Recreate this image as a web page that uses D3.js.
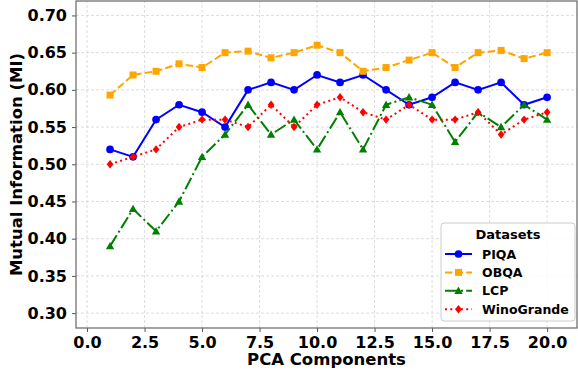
<!DOCTYPE html>
<html>
<head>
<meta charset="utf-8">
<script src="https://cdn.jsdelivr.net/npm/d3@7"></script>
<style>
  body { margin: 0; background: #fff; }
  svg { font-family: "DejaVu Sans", sans-serif; font-weight: bold; }
</style>
</head>
<body>
<div id="chart"></div>
<script>
// Data
const components = d3.range(1, 21);
const piqa = [0.52, 0.51, 0.56, 0.58, 0.57, 0.55, 0.60, 0.61, 0.60, 0.62, 0.61, 0.62, 0.60, 0.58, 0.59, 0.61, 0.60, 0.61, 0.58, 0.59];
const obqa = [0.593, 0.62, 0.625, 0.635, 0.63, 0.65, 0.652, 0.643, 0.65, 0.66, 0.65, 0.625, 0.63, 0.64, 0.65, 0.63, 0.65, 0.653, 0.642, 0.65];
const lcp = [0.39, 0.44, 0.41, 0.45, 0.51, 0.54, 0.58, 0.54, 0.56, 0.52, 0.57, 0.52, 0.58, 0.59, 0.58, 0.53, 0.57, 0.55, 0.58, 0.56];
const wino = [0.50, 0.51, 0.52, 0.55, 0.56, 0.56, 0.55, 0.58, 0.55, 0.58, 0.59, 0.57, 0.56, 0.58, 0.56, 0.56, 0.57, 0.54, 0.56, 0.57];
const xTicks = [0, 2.5, 5, 7.5, 10, 12.5, 15, 17.5, 20];
const yTicks = [0.30, 0.35, 0.40, 0.45, 0.50, 0.55, 0.60, 0.65, 0.70];

const series = [
    { name: "PIQA", values: piqa, color: "blue", dash: null, marker: "circle" },
    { name: "OBQA", values: obqa, color: "orange", dash: "7.4,3.2", marker: "square" },
    { name: "LCP", values: lcp, color: "green", dash: "12.8,3.2,2,3.2", marker: "triangle" },
    { name: "WinoGrande", values: wino, color: "red", dash: "2,3.3", marker: "diamond" }
];

const width = 578, height = 374;
const margin = { top: 1, right: 1, bottom: 46, left: 76 };

const svg = d3.select("#chart").append("svg")
    .attr("width", width)
    .attr("height", height);

const x = d3.scaleLinear().domain([-0.48, 21.3]).range([margin.left, width - margin.right]);
const y = d3.scaleLinear().domain([0.28, 0.7194]).range([height - margin.bottom, margin.top]);

// Grid
const grid = svg.append("g");
grid.selectAll(".vg").data(xTicks).enter().append("line")
    .attr("x1", d => x(d)).attr("x2", d => x(d))
    .attr("y1", y.range()[0]).attr("y2", y.range()[1])
    .style("stroke", "#d4d4d4").style("stroke-width", 0.8).style("stroke-dasharray", "3,2");
grid.selectAll(".hg").data(yTicks).enter().append("line")
    .attr("x1", x.range()[0]).attr("x2", x.range()[1])
    .attr("y1", d => y(d)).attr("y2", d => y(d))
    .style("stroke", "#d4d4d4").style("stroke-width", 0.8).style("stroke-dasharray", "3,2");

// Axes
const xAxis = svg.append("g")
    .attr("transform", `translate(0,${height - margin.bottom})`)
    .call(d3.axisBottom(x).tickValues(xTicks).tickFormat(d3.format(".1f")).tickSize(4).tickPadding(5));
const yAxis = svg.append("g")
    .attr("transform", `translate(${margin.left},0)`)
    .call(d3.axisLeft(y).tickValues(yTicks).tickFormat(d3.format(".2f")).tickSize(4).tickPadding(5));
[xAxis, yAxis].forEach(a => {
    a.selectAll("text").style("font-size", "16px").style("font-weight", "bold")
        .style("font-family", "DejaVu Sans").style("fill", "#000");
    a.selectAll("line").style("stroke", "#555");
    a.select(".domain").remove();
});

// Frame
svg.append("rect")
    .attr("x", margin.left).attr("y", margin.top)
    .attr("width", width - margin.left - margin.right)
    .attr("height", height - margin.top - margin.bottom)
    .style("fill", "none").style("stroke", "#666").style("stroke-width", 1.2);

// Lines
const line = d3.line().x((d, i) => x(components[i])).y(d => y(d));

function drawMarker(g, type, color, size) {
    if (type === "circle") {
        g.append("circle").attr("r", size * 0.55).style("fill", color);
    } else if (type === "square") {
        g.append("rect").attr("x", -size * 0.5).attr("y", -size * 0.5)
            .attr("width", size).attr("height", size).style("fill", color);
    } else if (type === "triangle") {
        const s = size * 0.6;
        g.append("path").attr("d", `M0,${-s}L${s},${s * 0.75}L${-s},${s * 0.75}Z`).style("fill", color);
    } else if (type === "diamond") {
        const s = size * 0.6;
        g.append("path").attr("d", `M0,${-s}L${s * 0.8},0L0,${s}L${-s * 0.8},0Z`).style("fill", color);
    }
}

series.forEach(s => {
    svg.append("path")
        .datum(s.values)
        .attr("d", line)
        .style("fill", "none")
        .style("stroke", s.color)
        .style("stroke-width", 2)
        .style("stroke-dasharray", s.dash);
    s.values.forEach((v, i) => {
        const g = svg.append("g").attr("transform", `translate(${x(components[i])},${y(v)})`);
        drawMarker(g, s.marker, s.color, 7);
    });
});

// Axis labels
svg.append("text")
    .attr("x", (margin.left + width - margin.right) / 2)
    .attr("y", 365)
    .attr("text-anchor", "middle")
    .style("font-size", "16.5px")
    .text("PCA Components");

svg.append("text")
    .attr("transform", `translate(22,${(margin.top + height - margin.bottom) / 2}) rotate(-90)`)
    .attr("text-anchor", "middle")
    .style("font-size", "16.5px")
    .text("Mutual Information (MI)");

// Legend
const legend = svg.append("g").attr("transform", "translate(441,223)");
legend.append("rect")
    .attr("width", 134).attr("height", 98).attr("rx", 3)
    .style("fill", "#fff").style("fill-opacity", 0.85)
    .style("stroke", "#ccc");
legend.append("text")
    .attr("x", 67).attr("y", 16)
    .attr("text-anchor", "middle")
    .style("font-size", "13px")
    .text("Datasets");
series.forEach((s, i) => {
    const yy = 31 + i * 18.4;
    legend.append("line")
        .attr("x1", 4).attr("x2", 31).attr("y1", yy).attr("y2", yy)
        .style("stroke", s.color).style("stroke-width", 2)
        .style("stroke-dasharray", s.dash);
    const g = legend.append("g").attr("transform", `translate(17.5,${yy})`);
    drawMarker(g, s.marker, s.color, 7);
    legend.append("text")
        .attr("x", 41).attr("y", yy + 4.5)
        .style("font-size", "12.5px")
        .text(s.name);
});
</script>
</body>
</html>
